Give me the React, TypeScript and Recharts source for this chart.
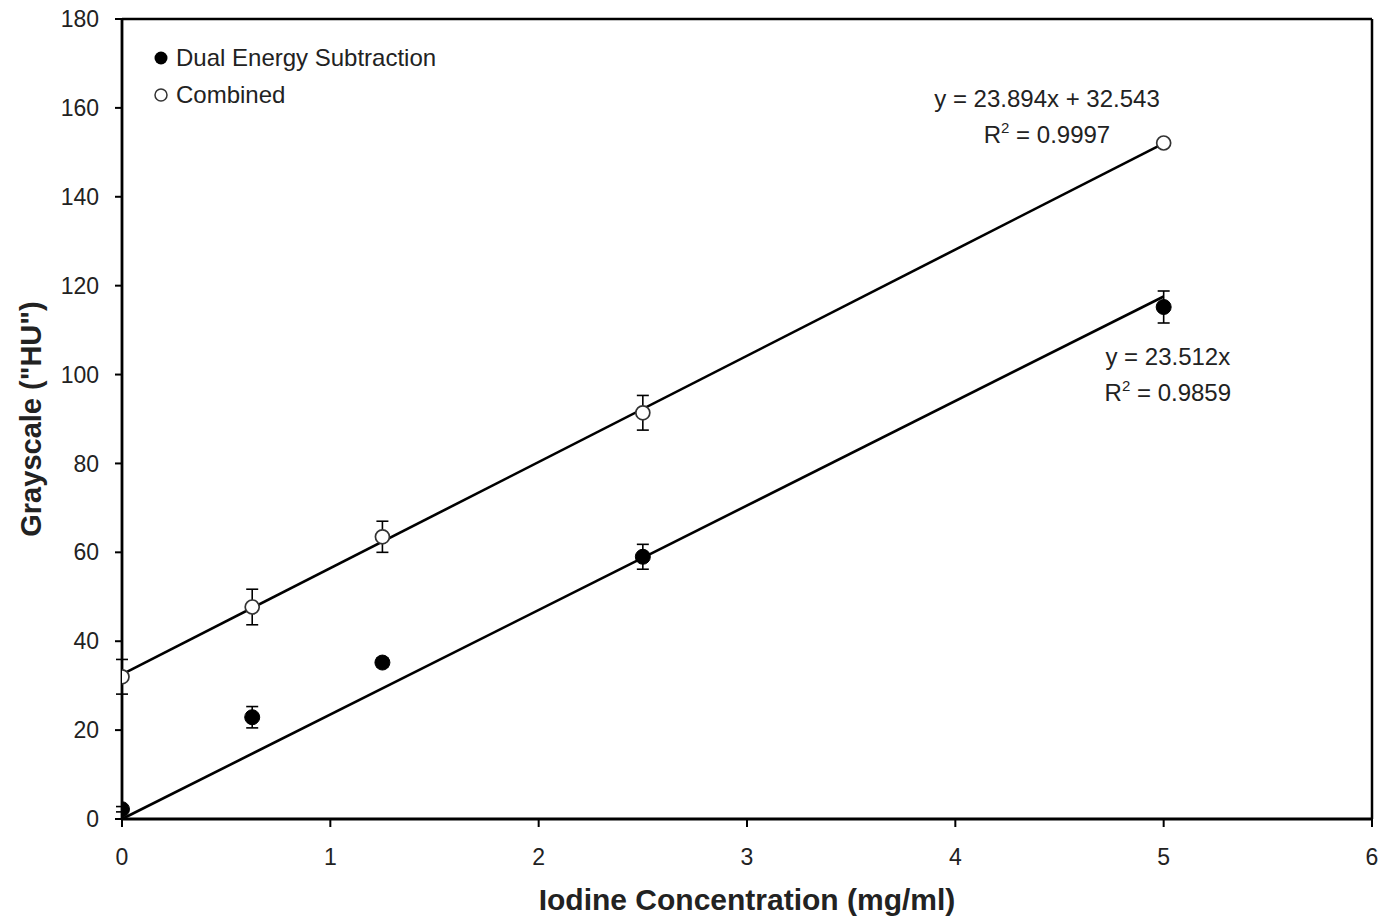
import React from 'react';
import {
  ComposedChart, Scatter, XAxis, YAxis, ErrorBar, ReferenceLine, ReferenceDot, Label,
} from 'recharts';

const FONT = '"Liberation Sans", Arial, sans-serif';

const concentrations = [0, 0.625, 1.25, 2.5, 5];
const desValues = [2.2, 22.9, 35.2, 59.0, 115.2];
const desErrors = [0.6, 2.4, 1.0, 2.8, 3.6];
const combinedValues = [32.0, 47.7, 63.5, 91.4, 152.1];
const combinedErrors = [3.9, 4.0, 3.5, 3.9, 0.6];

const xTicks = [0, 1, 2, 3, 4, 5, 6];
const yTicks = [0, 20, 40, 60, 80, 100, 120, 140, 160, 180];

const desFit = { slope: 23.512, intercept: 0, r2: '0.9859', label: 'y = 23.512x' };
const combinedFit = { slope: 23.894, intercept: 32.543, r2: '0.9997', label: 'y = 23.894x + 32.543' };
const fitRange = [0, 5];

const desData = concentrations.map((x, i) => ({ x, y: desValues[i], err: desErrors[i] }));
const combinedData = concentrations.map((x, i) => ({ x, y: combinedValues[i], err: combinedErrors[i] }));

const fitSegment = (f: { slope: number; intercept: number }) =>
  fitRange.map((x) => ({ x, y: f.slope * x + f.intercept }));

const TEXT = '#222';

const FilledDot = (p: any) => <circle cx={p.cx} cy={p.cy} r={7.5} fill="#000" stroke="#000" strokeWidth={1} />;
const OpenDot = (p: any) => <circle cx={p.cx} cy={p.cy} r={7} fill="#fff" stroke="#333" strokeWidth={1.7} />;

const annotation = (line1: string, r2: string, x: number, y: number) => ({
  content: (props: any) => {
    const vb = props.viewBox || {};
    const cx = (vb.x ?? 0) + (vb.width ?? 0) / 2;
    const cy = (vb.y ?? 0) + (vb.height ?? 0) / 2;
    return (
      <g fontFamily={FONT} fontSize={24} fill={TEXT} textAnchor="middle">
        <text x={cx + x} y={cy + y}>{line1}</text>
        <text x={cx + x} y={cy + y + 36}>
          <tspan>R</tspan>
          <tspan dy={-10} fontSize={15}>2</tspan>
          <tspan dy={10}> = {r2}</tspan>
        </text>
      </g>
    );
  },
});

export default function App() {
  return (
    <div style={{ position: 'absolute', left: 0, top: 0, width: 1378, height: 919, background: '#fff' }}>
      <ComposedChart
        width={1378}
        height={919}
        margin={{ top: 19, right: 6, left: 0, bottom: 0 }}
      >
        <XAxis
          dataKey="x"
          type="number"
          domain={[0, 6]}
          ticks={xTicks}
          allowDataOverflow
          height={100}
          tickSize={8}
          tickMargin={22}
          stroke="#000"
          axisLine={{ stroke: '#000', strokeWidth: 2.8 }}
          tickLine={{ stroke: '#000', strokeWidth: 2 }}
          tick={{ fill: TEXT, fontSize: 23, fontFamily: FONT }}
        >
          <Label
            value="Iodine Concentration (mg/ml)"
            position="insideBottom"
            offset={9}
            style={{ fontSize: 30, fontWeight: 'bold', fontFamily: FONT, fill: TEXT }}
          />
        </XAxis>
        <YAxis
          dataKey="y"
          type="number"
          domain={[0, 180]}
          ticks={yTicks}
          allowDataOverflow
          width={122}
          tickSize={7}
          tickMargin={16}
          axisLine={{ stroke: '#000', strokeWidth: 2.8 }}
          tickLine={{ stroke: '#000', strokeWidth: 2 }}
          tick={{ fill: TEXT, fontSize: 23, fontFamily: FONT }}
        >
          <Label
            content={() => (
              <text
                x={41}
                y={419}
                transform="rotate(-90 41 419)"
                textAnchor="middle"
                fontSize={29}
                fontWeight="bold"
                fontFamily={FONT}
                fill={TEXT}
              >
                Grayscale ("HU")
              </text>
            )}
          />
        </YAxis>
        <ReferenceLine y={180} stroke="#000" strokeWidth={2.5} />
        <ReferenceLine x={6} stroke="#000" strokeWidth={2.5} />

        <ReferenceLine segment={fitSegment(combinedFit)} stroke="#000" strokeWidth={2.6} ifOverflow="visible" />
        <ReferenceLine segment={fitSegment(desFit)} stroke="#000" strokeWidth={2.6} ifOverflow="visible" />

        <ReferenceDot
          x={4.44}
          y={162}
          r={1}
          fill="none"
          stroke="none"
          label={annotation(combinedFit.label, combinedFit.r2, 0, 8)}
        />
        <ReferenceDot
          x={5.02}
          y={104}
          r={1}
          fill="none"
          stroke="none"
          label={annotation(desFit.label, desFit.r2, 0, 8)}
        />

        <Scatter name="Combined" data={combinedData} shape={OpenDot} isAnimationActive={false}>
          <ErrorBar dataKey="err" direction="y" width={6} stroke="#000" strokeWidth={1.6} />
        </Scatter>
        <Scatter name="Dual Energy Subtraction" data={desData} shape={FilledDot} isAnimationActive={false}>
          <ErrorBar dataKey="err" direction="y" width={6} stroke="#000" strokeWidth={1.6} />
        </Scatter>
      </ComposedChart>

      <div style={{ position: 'absolute', left: 153, top: 42, fontFamily: FONT, fontSize: 24, color: TEXT }}>
        <div style={{ display: 'flex', alignItems: 'center', height: 32 }}>
          <svg width={18} height={18} style={{ marginRight: 5 }}>
            <circle cx={8} cy={9} r={6.5} fill="#000" />
          </svg>
          <span>Dual Energy Subtraction</span>
        </div>
        <div style={{ display: 'flex', alignItems: 'center', height: 32, marginTop: 5 }}>
          <svg width={18} height={18} style={{ marginRight: 5 }}>
            <circle cx={8} cy={9} r={6} fill="#fff" stroke="#333" strokeWidth={1.5} />
          </svg>
          <span>Combined</span>
        </div>
      </div>
    </div>
  );
}
